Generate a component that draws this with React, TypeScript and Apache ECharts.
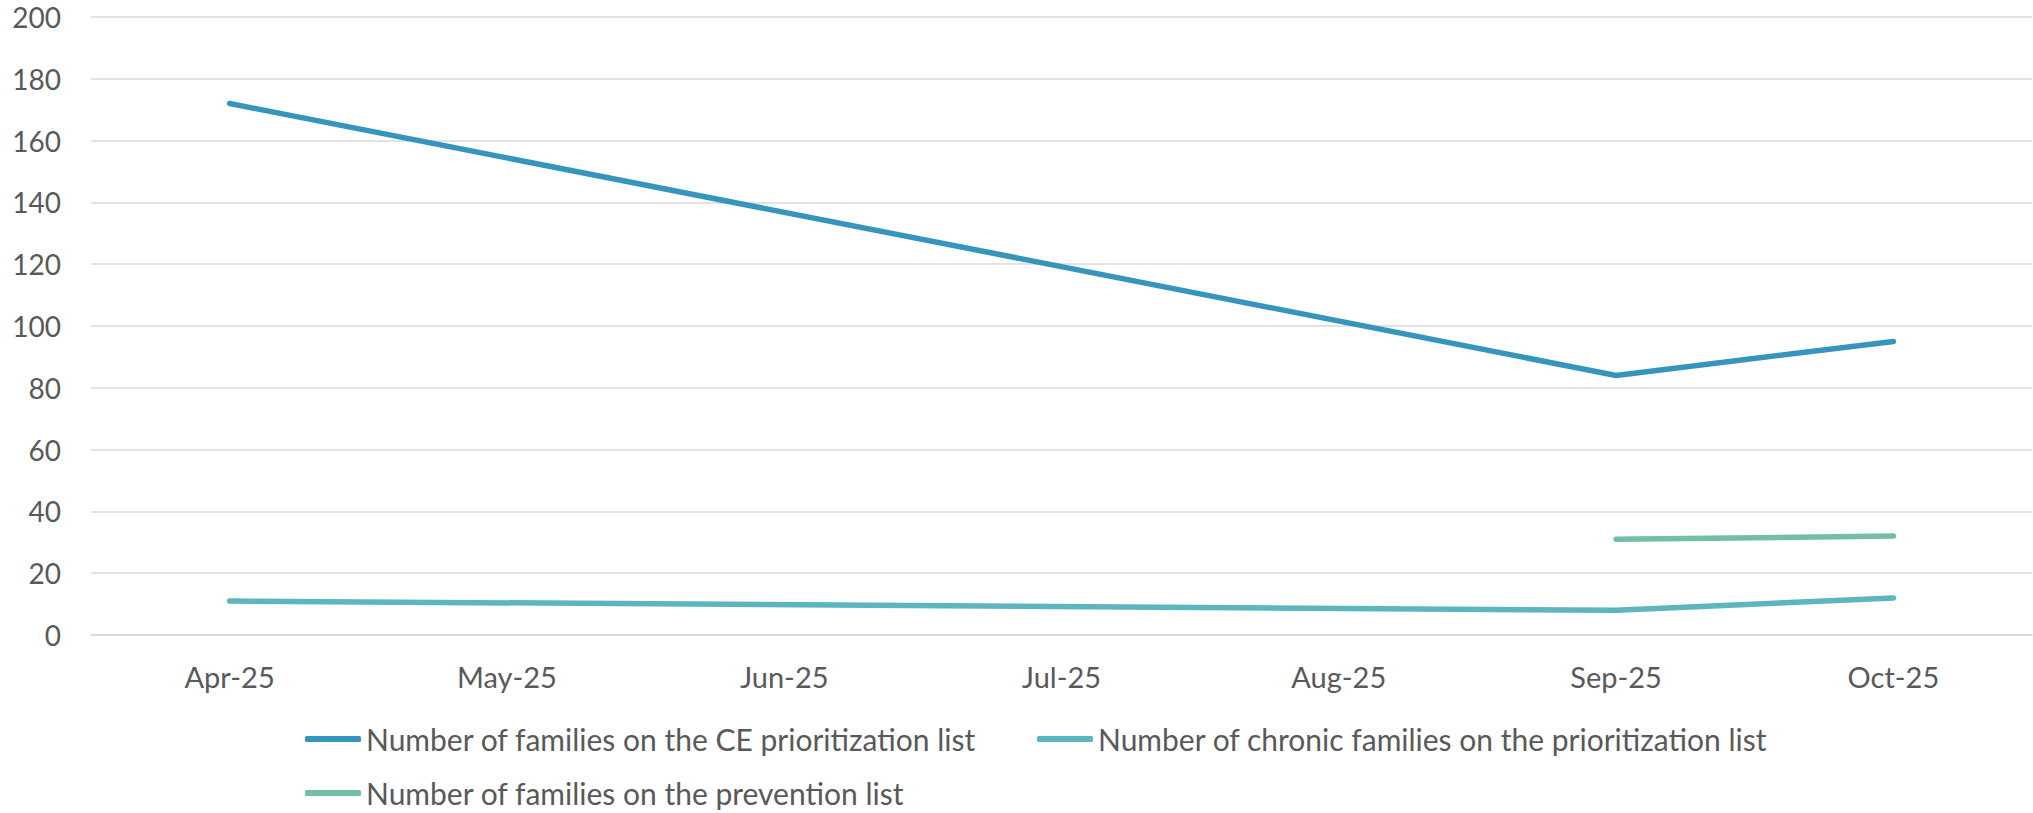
import React, { useEffect, useRef } from "react";
import * as echarts from "echarts";

const categories = ["Apr-25", "May-25", "Jun-25", "Jul-25", "Aug-25", "Sep-25", "Oct-25"];
const ceNames = "Number of families on the CE prioritization list";
const chronicName = "Number of chronic families on the prioritization list";
const preventionName = "Number of families on the prevention list";
// Months without a reported value are blank; the line spans them (as in the source chart)
const ceValues = [172, null, null, null, null, 84, 95];
const chronicValues = [11, null, null, null, null, 8, 12];
const preventionValues = [null, null, null, null, null, 31, 32];
const yTicks = { min: 0, max: 200, interval: 20 };

const FONT = "Lato, 'Open Sans', sans-serif";
const TEXT = "#595959";

export default function App() {
  const ref = useRef<HTMLDivElement>(null);
  useEffect(() => {
    document.body.style.margin = "0";
    const chart = echarts.init(ref.current!, null, { renderer: "svg" });
    const legendBase = {
      orient: "horizontal",
      icon: "roundRect",
      itemWidth: 56,
      itemHeight: 6,
      itemGap: 0,
      textStyle: { fontFamily: FONT, fontSize: 30, color: TEXT, lineHeight: 34, padding: [0, 0, 0, 0] },
      padding: 0,
    };
    chart.setOption({
      animation: false,
      textStyle: { fontFamily: FONT },
      grid: { left: 91, right: 1, top: 17, bottom: 178, containLabel: false },
      legend: [
        { ...legendBase, data: [ceNames], left: 305, top: 722 },
        { ...legendBase, data: [chronicName], left: 1037, top: 722 },
        { ...legendBase, data: [preventionName], left: 305, top: 776 },
      ],
      xAxis: {
        type: "category",
        data: categories,
        boundaryGap: true,
        axisLine: { show: true, lineStyle: { color: "#D9D9D9", width: 1.5 } },
        axisTick: { show: false },
        axisLabel: { fontFamily: FONT, fontSize: 29, color: TEXT, margin: 27 },
      },
      yAxis: {
        type: "value",
        min: yTicks.min,
        max: yTicks.max,
        interval: yTicks.interval,
        axisLine: { show: false },
        axisTick: { show: false },
        splitLine: { lineStyle: { color: "#D9D9D9", width: 1.5 } },
        axisLabel: { fontFamily: FONT, fontSize: 28, color: TEXT, margin: 30 },
      },
      series: [
        {
          name: ceNames,
          type: "line",
          data: ceValues,
          connectNulls: true,
          showSymbol: false,
          symbol: "none",
          color: "#3595BD",
          lineStyle: { width: 5.5, cap: "round", join: "round", color: "#3595BD" },
        },
        {
          name: chronicName,
          type: "line",
          data: chronicValues,
          connectNulls: true,
          showSymbol: false,
          symbol: "none",
          color: "#5BB6C0",
          lineStyle: { width: 5.5, cap: "round", join: "round", color: "#5BB6C0" },
        },
        {
          name: preventionName,
          type: "line",
          data: preventionValues,
          connectNulls: true,
          showSymbol: false,
          symbol: "none",
          color: "#75BEA6",
          lineStyle: { width: 5.5, cap: "round", join: "round", color: "#75BEA6" },
        },
      ],
    });
    return () => chart.dispose();
  }, []);
  return (
    <div
      ref={ref}
      style={{ position: "absolute", left: 0, top: 0, width: 2033, height: 813, background: "#fff" }}
    />
  );
}
